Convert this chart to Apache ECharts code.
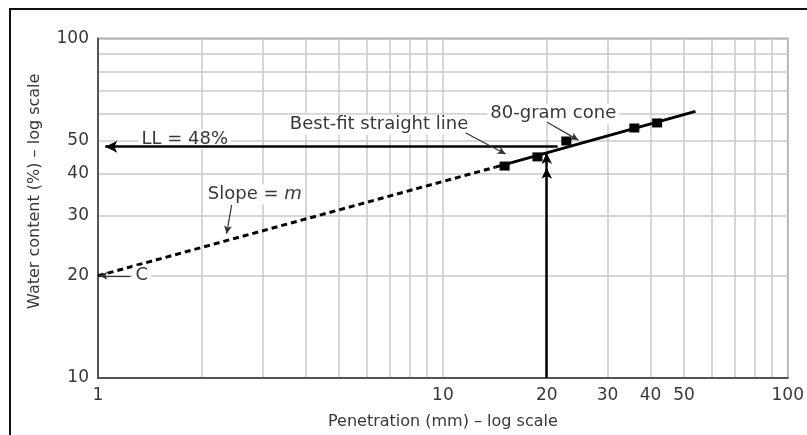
<!DOCTYPE html>
<html>
<head>
<meta charset="utf-8">
<script src="https://cdn.jsdelivr.net/npm/echarts@6/dist/echarts.min.js"></script>
<style>
  html, body { margin: 0; padding: 0; background: #fff; }
  #chart { width: 807px; height: 435px; }
</style>
</head>
<body>
<div id="chart"></div>
<script>
// Fall-cone test: water content against cone penetration, both on log scales.

// Measured points (80-gram cone)
const penetration = [15.1, 18.8, 22.8, 35.9, 41.8];
const waterContent = [42.1, 44.8, 49.9, 54.5, 56.4];

// Best-fit straight line: extrapolated part (dashed) and fitted part (solid)
const extrapPenetration = [1, 14.2];
const extrapWater = [20, 41.8];
const fitPenetration = [14.2, 54];
const fitWater = [41.8, 61];

// Liquid limit read at 20 mm penetration
const liquidLimit = 48;
const llPenetration = 20;
const llLineEnd = 21.5;          // where the LL line meets the best-fit line
const llArrowTips = [41.6, 46];  // upward arrowheads on the 20 mm line

// Axis labels and grid
const xTickLabels = [1, 10, 20, 30, 40, 50, 100];
const yTickLabels = [10, 20, 30, 40, 50, 100];
const xGridValues = [1, 2, 3, 4, 5, 6, 7, 8, 9, 10, 20, 30, 40, 50, 60, 70, 80, 90, 100];
const yGridValues = [10, 20, 30, 40, 50, 60, 70, 80, 90, 100];

const FONT = 'DejaVu Sans';
const TEXT = '#383838';

const zip = (xs, ys) => xs.map((x, i) => [x, ys[i]]);

// Callout texts placed in data coordinates
const callouts = [
  { value: [1.785, 50.6], text: 'LL = 48%' },
  { value: [6.53, 55.7], text: 'Best-fit straight line' },
  { value: [20.9, 60.0], text: '80-gram cone' },
  { value: [2.85, 34.8], text: '{t|Slope = }{i|m}' },
  { value: [1.34, 20], text: 'C' }
];

// Leader lines of the callouts: [from, to]
const leaders = [
  [[11.65, 52.7], [15.2, 45.7]],
  [[20.0, 56.8], [24.7, 50.2]],
  [[2.44, 32.3], [2.36, 26.6]],
  [[1.24, 20], [1.01, 20]]
];

function arrow(from, to, width, size, color) {
  return [
    { coord: from, symbol: 'none', lineStyle: { color: color, width: width, type: 'solid' } },
    { coord: to, symbol: 'arrow', symbolSize: size }
  ];
}

const guideLines = [
  arrow([llLineEnd, liquidLimit], [1.05, liquidLimit], 2.5, [9, 12], '#000'),
  arrow([llPenetration, 10], [llPenetration, llArrowTips[0]], 2.5, [8, 11], '#000'),
  arrow([llPenetration, llArrowTips[0]], [llPenetration, llArrowTips[1]], 2.5, [8, 11], '#000')
].concat(leaders.map(l => arrow(l[0], l[1], 1.2, [6, 8], '#333')));

const chart = echarts.init(document.getElementById('chart'));

chart.setOption({
  animation: false,
  backgroundColor: '#fff',
  grid: {
    left: 98, right: 17, top: 38.5, bottom: 57,
    show: true, borderColor: '#6e6e6e', borderWidth: 1.5
  },
  xAxis: {
    type: 'log', logBase: 10, min: 1, max: 100,
    name: 'Penetration (mm) – log scale',
    nameLocation: 'middle', nameGap: 36,
    nameTextStyle: { fontFamily: FONT, fontSize: 16, color: TEXT },
    axisLine: { show: true, lineStyle: { color: '#555', width: 2 } },
    axisTick: { show: false, customValues: xGridValues },
    axisLabel: { customValues: xTickLabels, fontFamily: FONT, fontSize: 17, color: TEXT, margin: 9 },
    splitLine: { show: true, lineStyle: { color: '#c9c9c9', width: 1.5 } }
  },
  yAxis: {
    type: 'log', logBase: 10, min: 10, max: 100,
    name: 'Water content (%) – log scale',
    nameLocation: 'middle', nameGap: 55,
    nameTextStyle: { fontFamily: FONT, fontSize: 16, color: TEXT, padding: [0, 0, 0, 34] },
    axisLine: { show: true, lineStyle: { color: '#555', width: 2 } },
    axisTick: { show: false, customValues: yGridValues },
    axisLabel: { customValues: yTickLabels, fontFamily: FONT, fontSize: 17, color: TEXT, margin: 9 },
    splitLine: { show: true, lineStyle: { color: '#c9c9c9', width: 1.5 } }
  },
  graphic: [{
    type: 'rect', silent: true, z: 100,
    shape: { x: 10, y: 9, width: 900, height: 600 },
    style: { fill: 'none', stroke: '#111', lineWidth: 2 }
  }],
  series: [
    {
      name: 'Extrapolated',
      type: 'line',
      data: zip(extrapPenetration, extrapWater),
      symbol: 'none',
      lineStyle: { color: '#000', width: 3, type: [6, 4] },
      z: 3
    },
    {
      name: 'Best-fit straight line',
      type: 'line',
      data: zip(fitPenetration, fitWater),
      symbol: 'none',
      lineStyle: { color: '#000', width: 3 },
      z: 3
    },
    {
      name: 'Guides',
      type: 'line',
      data: [],
      z: 2,
      markLine: {
        silent: true,
        animation: false,
        label: { show: false },
        emphasis: { disabled: true },
        data: guideLines
      }
    },
    {
      name: 'Callouts',
      type: 'scatter',
      symbolSize: 0,
      z: 4,
      silent: true,
      itemStyle: { opacity: 1 },
      emphasis: { disabled: true },
      data: callouts.map(c => ({ value: c.value, name: c.text })),
      label: {
        show: true,
        position: 'inside',
        formatter: p => p.name,
        fontFamily: FONT,
        fontSize: 18,
        color: TEXT,
        opacity: 1,
        backgroundColor: '#fff',
        padding: [1, 3],
        rich: {
          t: { fontFamily: FONT, fontSize: 18, color: TEXT },
          i: { fontFamily: FONT, fontSize: 18, color: TEXT, fontStyle: 'italic' }
        }
      }
    },
    {
      name: '80-gram cone',
      type: 'scatter',
      data: zip(penetration, waterContent),
      symbol: 'rect',
      symbolSize: [10, 9],
      itemStyle: { color: '#000', opacity: 1 },
      emphasis: { disabled: true },
      z: 5
    }
  ]
});
</script>
</body>
</html>
